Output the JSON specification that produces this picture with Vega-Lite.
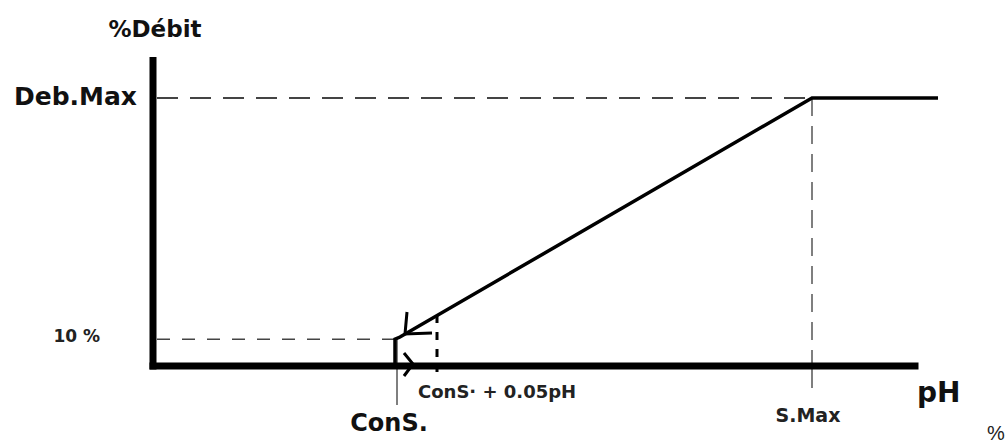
{
  "$schema": "https://vega.github.io/schema/vega-lite/v6.json",
  "width": 1007,
  "height": 443,
  "padding": 0,
  "autosize": {"type": "none"},
  "background": "white",
  "config": {"view": {"stroke": null}},
  "datasets": {
    "segs": [
      {"g": "dashL", "x": 6.7, "y": 100, "x2": 7.51875, "y2": 100},
      {"g": "dashV", "x": 7.51875, "y": 100, "x2": 7.51875, "y2": 0},
      {"g": "dashS", "x": 6.7, "y": 10, "x2": 6.9975, "y2": 10},
      {"g": "thin", "x": 7.0, "y": 10, "x2": 7.0, "y2": -14.55},
      {"g": "thin", "x": 7.51875, "y": 0, "x2": 7.51875, "y2": -8.2},
      {"g": "hyst", "x": 7.05, "y": 19.03, "x2": 7.05, "y2": -2.24},
      {"g": "axis", "x": 6.695, "y": 114.0, "x2": 6.695, "y2": 0},
      {"g": "axis", "x": 6.695, "y": 0, "x2": 7.6475, "y2": 0}
    ],
    "paths": [
      {"g": "curve", "o": 1, "x": 6.9975, "y": 0},
      {"g": "curve", "o": 2, "x": 6.9975, "y": 10},
      {"g": "curve", "o": 3, "x": 7.00375, "y": 10.82},
      {"g": "curve", "o": 4, "x": 7.51875, "y": 100},
      {"g": "curve", "o": 5, "x": 7.67625, "y": 100},
      {"g": "arrowUp", "o": 1, "x": 7.0125, "y": 20.15},
      {"g": "arrowUp", "o": 2, "x": 7.01, "y": 11.94},
      {"g": "arrowUp", "o": 3, "x": 7.04375, "y": 12.31},
      {"g": "arrowRight", "o": 1, "x": 7.00875, "y": 4.85},
      {"g": "arrowRight", "o": 2, "x": 7.02, "y": 0.75},
      {"g": "arrowRight", "o": 3, "x": 7.00875, "y": -3.73}
    ],
    "labels": [
      {"g": "ytitle", "t": "%Débit", "x": 6.6975, "y": 122.76},
      {"g": "debmax", "t": "Deb.Max", "x": 6.675, "y": 97.39},
      {"g": "ten", "t": "10 %", "x": 6.62875, "y": 8.955},
      {"g": "cons", "t": "ConS.", "x": 6.99, "y": -24.25},
      {"g": "cons2", "t": "ConS· + 0.05pH", "x": 7.02625, "y": -11.94},
      {"g": "smax", "t": "S.Max", "x": 7.51375, "y": -20.9},
      {"g": "ph", "t": "pH", "x": 7.65, "y": -13.43},
      {"g": "pct", "t": "%", "x": 7.74875, "y": -27.6}
    ]
  },
  "encoding": {
    "x": {"field": "x", "type": "quantitative", "scale": {"domain": [6.50375, 7.7625], "nice": false, "zero": false}, "axis": null},
    "y": {"field": "y", "type": "quantitative", "scale": {"domain": [-28.7313, 136.5672], "nice": false, "zero": false}, "axis": null}
  },
  "layer": [
    {
      "data": {"name": "segs"},
      "transform": [{"filter": "datum.g == 'dashL'"}],
      "mark": {"type": "rule", "strokeDash": [21, 12], "strokeWidth": 2, "color": "#444"},
      "encoding": {"x2": {"field": "x2"}, "y2": {"field": "y2"}}
    },
    {
      "data": {"name": "segs"},
      "transform": [{"filter": "datum.g == 'dashV'"}],
      "mark": {"type": "rule", "strokeDash": [18, 10], "strokeWidth": 1.5, "color": "#555"},
      "encoding": {"x2": {"field": "x2"}, "y2": {"field": "y2"}}
    },
    {
      "data": {"name": "segs"},
      "transform": [{"filter": "datum.g == 'dashS'"}],
      "mark": {"type": "rule", "strokeDash": [13, 12], "strokeWidth": 1.5, "color": "#444"},
      "encoding": {"x2": {"field": "x2"}, "y2": {"field": "y2"}}
    },
    {
      "data": {"name": "segs"},
      "transform": [{"filter": "datum.g == 'thin'"}],
      "mark": {"type": "rule", "strokeWidth": 1.5, "color": "#555"},
      "encoding": {"x2": {"field": "x2"}, "y2": {"field": "y2"}}
    },
    {
      "data": {"name": "segs"},
      "transform": [{"filter": "datum.g == 'hyst'"}],
      "mark": {"type": "rule", "strokeDash": [8, 9], "strokeWidth": 3, "color": "#000"},
      "encoding": {"x2": {"field": "x2"}, "y2": {"field": "y2"}}
    },
    {
      "data": {"name": "paths"},
      "transform": [{"filter": "datum.g == 'curve'"}],
      "mark": {"type": "line", "strokeWidth": 3.5, "color": "#000", "strokeJoin": "miter"},
      "encoding": {"order": {"field": "o", "type": "quantitative"}, "detail": {"field": "g"}}
    },
    {
      "data": {"name": "paths"},
      "transform": [{"filter": "datum.g != 'curve'"}],
      "mark": {"type": "line", "strokeWidth": 3, "color": "#000"},
      "encoding": {"order": {"field": "o", "type": "quantitative"}, "detail": {"field": "g"}}
    },
    {
      "data": {"name": "segs"},
      "transform": [{"filter": "datum.g == 'axis'"}],
      "mark": {"type": "rule", "strokeWidth": 7, "color": "#000", "strokeCap": "square"},
      "encoding": {"x2": {"field": "x2"}, "y2": {"field": "y2"}}
    },
    {
      "data": {"name": "labels"},
      "transform": [{"filter": "datum.g == 'ytitle'"}],
      "mark": {"type": "text", "font": "DejaVu Sans", "fontWeight": "bold", "fontSize": 23, "align": "center", "baseline": "alphabetic", "color": "#111"},
      "encoding": {"text": {"field": "t"}}
    },
    {
      "data": {"name": "labels"},
      "transform": [{"filter": "datum.g == 'debmax'"}],
      "mark": {"type": "text", "font": "DejaVu Sans", "fontWeight": "bold", "fontSize": 25, "align": "right", "baseline": "alphabetic", "color": "#111"},
      "encoding": {"text": {"field": "t"}}
    },
    {
      "data": {"name": "labels"},
      "transform": [{"filter": "datum.g == 'ten'"}],
      "mark": {"type": "text", "font": "DejaVu Sans", "fontWeight": "bold", "fontSize": 17, "align": "right", "baseline": "alphabetic", "color": "#222"},
      "encoding": {"text": {"field": "t"}}
    },
    {
      "data": {"name": "labels"},
      "transform": [{"filter": "datum.g == 'cons'"}],
      "mark": {"type": "text", "font": "DejaVu Sans", "fontWeight": "bold", "fontSize": 24, "align": "center", "baseline": "alphabetic", "color": "#111"},
      "encoding": {"text": {"field": "t"}}
    },
    {
      "data": {"name": "labels"},
      "transform": [{"filter": "datum.g == 'cons2'"}],
      "mark": {"type": "text", "font": "DejaVu Sans", "fontWeight": "bold", "fontSize": 18, "align": "left", "baseline": "alphabetic", "color": "#222"},
      "encoding": {"text": {"field": "t"}}
    },
    {
      "data": {"name": "labels"},
      "transform": [{"filter": "datum.g == 'smax'"}],
      "mark": {"type": "text", "font": "DejaVu Sans", "fontWeight": "bold", "fontSize": 19, "align": "center", "baseline": "alphabetic", "color": "#222"},
      "encoding": {"text": {"field": "t"}}
    },
    {
      "data": {"name": "labels"},
      "transform": [{"filter": "datum.g == 'ph'"}],
      "mark": {"type": "text", "font": "DejaVu Sans", "fontWeight": "bold", "fontSize": 28, "align": "left", "baseline": "alphabetic", "color": "#111"},
      "encoding": {"text": {"field": "t"}}
    },
    {
      "data": {"name": "labels"},
      "transform": [{"filter": "datum.g == 'pct'"}],
      "mark": {"type": "text", "font": "Liberation Sans", "fontSize": 20, "align": "center", "baseline": "alphabetic", "color": "#222"},
      "encoding": {"text": {"field": "t"}}
    }
  ]
}
